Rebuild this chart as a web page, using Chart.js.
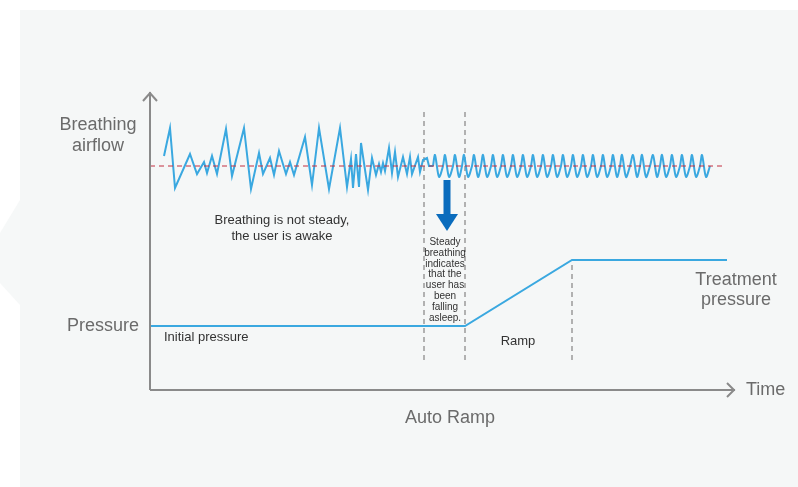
<!DOCTYPE html>
<html>
<head>
<meta charset="utf-8">
<script src="https://cdn.jsdelivr.net/npm/chart.js@4/dist/chart.umd.min.js"></script>
<style>
  html, body { margin: 0; padding: 0; background: #ffffff; }
  #wrap { width: 798px; height: 487px; position: relative; }
</style>
</head>
<body>
<div id="wrap"><canvas id="autoRamp" width="798" height="487"></canvas></div>
<script>
// time axis 0..117, level axis 0..149 (arbitrary units)
const breathBaseT = [0, 114.4];
const breathBaseV = [112, 112];

const awakeT = [2.8, 4.0, 5.0, 8.0, 9.4, 10.8, 11.4, 12.4, 13.4, 15.2, 16.4, 18.8, 20.2, 21.8, 22.6, 24.0, 24.8, 25.8, 27.2, 28.0,
  28.8, 31.0, 32.4, 33.8, 35.8, 38.0, 39.4, 40.2, 40.6, 41.2, 41.8, 42.2, 43.6, 44.4, 45.2, 45.8, 46.2, 46.6, 47.0, 47.8,
  48.4, 49.0, 49.6, 50.6, 51.4, 52.0, 52.4, 53.6, 54.0, 54.6, 55.4, 55.8, 56.6];
const awakeV = [117, 131, 101, 118, 108, 114, 108.5, 117, 108, 130.5, 107, 131, 100.5, 118.5, 108, 116, 107.5, 119.5, 108, 114,
  107.5, 126.5, 102.5, 131, 100.5, 131, 101.5, 115.5, 101, 118, 101.5, 123.5, 100, 116, 107.5, 113, 109, 113.5, 109.5, 121,
  108.5, 119, 106.5, 116.5, 108, 116.5, 108, 116.5, 109, 115, 116, 112, 112];

const steadyT = [56.6,
  57, 57.8, 58.6, 59, 59.8, 60.6, 61, 61.8, 62.4, 62.8, 63.6, 64.4, 64.8, 65.6, 66.2,
  66.6, 67.4, 68.2, 68.6, 69.4, 70.2, 70.6, 71.4, 72.2, 72.6, 73.4, 74.2, 74.6, 75.4, 76.2,
  76.6, 77.4, 78.2, 78.6, 79.4, 80.2, 80.6, 81.4, 82.2, 82.6, 83.4, 84.2, 84.6, 85.4, 86.2,
  86.6, 87.4, 88.2, 88.6, 89.4, 90.2, 90.6, 91.4, 92.2, 92.6, 93.4, 94.0, 94.4, 95.2, 96.0,
  96.6, 97.4, 98.0, 98.4, 99.2, 100.0, 100.6, 101.4, 102.0, 102.4, 103.2, 104.0, 104.4, 105.2, 106.0,
  106.4, 107.2, 108.0, 108.4, 109.2, 110.0, 110.4, 111.2, 112.0];
const steadyV = [112,
  117.5, 106.5, 112, 117.5, 106.5, 112, 117.5, 106.5, 112, 117.5, 106.5, 112, 117.5, 106.5, 112,
  117.5, 106.5, 112, 117.5, 106.5, 112, 117.5, 106.5, 112, 117.5, 106.5, 112, 117.5, 106.5, 112,
  117.5, 106.5, 112, 117.5, 106.5, 112, 117.5, 106.5, 112, 117.5, 106.5, 112, 117.5, 106.5, 112,
  117.5, 106.5, 112, 117.5, 106.5, 112, 117.5, 106.5, 112, 117.5, 106.5, 112, 117.5, 106.5, 112,
  117.5, 106.5, 112, 117.5, 106.5, 112, 117.5, 106.5, 112, 117.5, 106.5, 112, 117.5, 106.5, 112,
  117.5, 106.5, 112, 117.5, 106.5, 112, 117.5, 106.5, 112];

const pressureT = [0, 63, 84.4, 115.4];
const pressureV = [32, 32, 65, 65];

const markerT = [54.8, 63, 84.4];
const markerTop = [140, 140, 65];
const markerBottom = [15, 15, 15];

const arrowT = 59.4;
const arrowFrom = 105;
const arrowTo = 79.5;

function pts(xs, ys) {
  return xs.map((x, i) => ({ x: x, y: ys[i] }));
}

const lineBlue = "#3aa8e0";

const datasets = [
  { data: pts(breathBaseT, breathBaseV), borderColor: "#c22f40", borderWidth: 1, borderDash: [5, 4] },
  { data: pts(awakeT, awakeV), borderColor: lineBlue, borderWidth: 2 },
  { data: pts(steadyT, steadyV), borderColor: lineBlue, borderWidth: 2, tension: 0.3 },
  { data: pts(pressureT, pressureV), borderColor: lineBlue, borderWidth: 2 },
];
markerT.forEach((t, i) => {
  datasets.push({
    data: [{ x: t, y: markerBottom[i] }, { x: t, y: markerTop[i] }],
    borderColor: "#9a9a9a", borderWidth: 1.5, borderDash: [5, 4],
  });
});

const backdrop = {
  id: "backdrop",
  beforeDraw(chart) {
    const c = chart.ctx;
    c.save();
    c.fillStyle = "#ffffff";
    c.fillRect(0, 0, chart.width, chart.height);
    c.fillStyle = "#f5f7f7";
    c.fillRect(20, 10, chart.width - 20, chart.height - 10);
    c.fillStyle = "#f6f8f8";
    c.beginPath();
    c.moveTo(20, 200);
    c.lineTo(0, 233);
    c.lineTo(0, 283);
    c.lineTo(20, 305);
    c.closePath();
    c.fill();
    c.restore();
  },
};

const decorations = {
  id: "decorations",
  afterDatasetsDraw(chart) {
    const c = chart.ctx;
    const a = chart.chartArea;
    const xs = chart.scales.x, ys = chart.scales.y;
    c.save();
    // axes with open arrowheads
    c.strokeStyle = "#8a8a8a";
    c.lineWidth = 2;
    c.lineCap = "butt";
    c.beginPath();
    c.moveTo(a.left, a.bottom);
    c.lineTo(a.left, a.top);
    c.moveTo(a.left, a.bottom);
    c.lineTo(a.right, a.bottom);
    c.stroke();
    c.lineJoin = "miter";
    c.beginPath();
    c.moveTo(a.left - 7, a.top + 9);
    c.lineTo(a.left, a.top + 1);
    c.lineTo(a.left + 7, a.top + 9);
    c.moveTo(a.right - 8, a.bottom - 7);
    c.lineTo(a.right - 1, a.bottom);
    c.lineTo(a.right - 8, a.bottom + 7);
    c.stroke();

    // blue down arrow
    const ax = xs.getPixelForValue(arrowT);
    const y0 = ys.getPixelForValue(arrowFrom);
    const y1 = ys.getPixelForValue(arrowTo);
    c.fillStyle = "#0a6cbd";
    c.fillRect(ax - 3.5, y0, 7, (y1 - y0) - 16);
    c.beginPath();
    c.moveTo(ax - 11, y1 - 17);
    c.lineTo(ax + 11, y1 - 17);
    c.lineTo(ax, y1);
    c.closePath();
    c.fill();

    // texts
    c.textBaseline = "middle";
    c.fillStyle = "#6b6b6b";
    c.font = "18px 'Liberation Sans', Arial, sans-serif";
    c.textAlign = "center";
    c.fillText("Breathing", 98, 125);
    c.fillText("airflow", 98, 146);
    c.fillText("Treatment", 736, 280);
    c.fillText("pressure", 736, 300);
    c.fillText("Auto Ramp", 450, 418);
    c.textAlign = "right";
    c.fillText("Pressure", 139, 326);
    c.textAlign = "left";
    c.fillText("Time", 746, 390);

    c.fillStyle = "#333333";
    c.font = "13px 'Liberation Sans', Arial, sans-serif";
    c.textAlign = "center";
    c.fillText("Breathing is not steady,", 282, 220);
    c.fillText("the user is awake", 282, 236);
    c.fillText("Ramp", 518, 341);
    c.textAlign = "left";
    c.fillText("Initial pressure", 164, 337);

    c.font = "10px 'Liberation Sans', Arial, sans-serif";
    c.textAlign = "center";
    const small = ["Steady", "breathing", "indicates", "that the", "user has", "been", "falling", "asleep."];
    small.forEach((s, i) => c.fillText(s, 445, 242 + i * 10.9));
    c.restore();
  },
};

new Chart(document.getElementById("autoRamp").getContext("2d"), {
  type: "scatter",
  data: { datasets: datasets.map((d) => Object.assign({ showLine: true, pointRadius: 0, fill: false, tension: 0 }, d)) },
  options: {
    responsive: false,
    animation: false,
    events: [],
    layout: { padding: { left: 150, right: 63, top: 92, bottom: 97 } },
    plugins: { legend: { display: false }, tooltip: { enabled: false } },
    scales: {
      x: { type: "linear", min: 0, max: 117, display: false },
      y: { type: "linear", min: 0, max: 149, display: false },
    },
  },
  plugins: [backdrop, decorations],
});
</script>
</body>
</html>
